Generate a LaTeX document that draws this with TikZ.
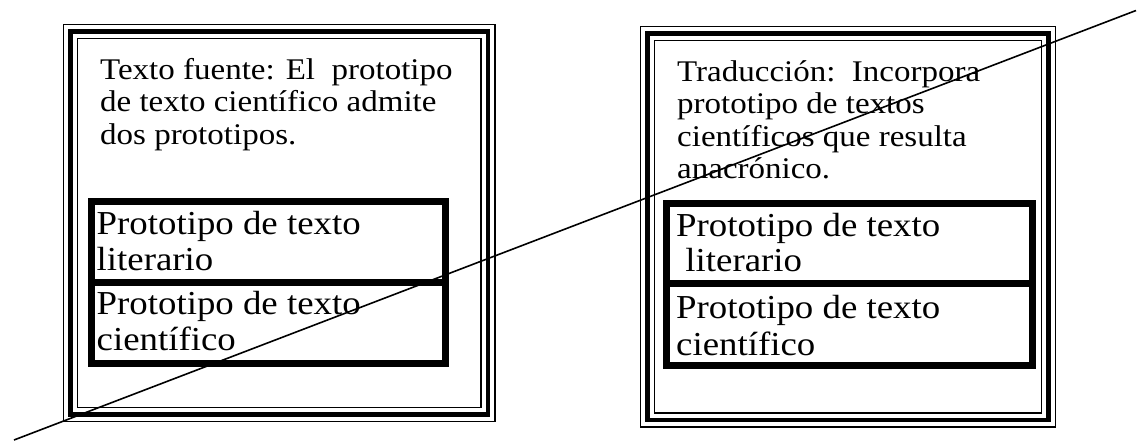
\documentclass[tikz,border=0pt]{standalone}
\usepackage{fontspec}
\setmainfont{Liberation Serif}
\newfontfamily\widefont[FakeStretch=1.1]{Liberation Serif}
\begin{document}
\begin{tikzpicture}[x=1pt,y=-1pt,
  txt/.style={anchor=base west, inner sep=0pt, font=\widefont\fontsize{30}{33}\selectfont},
  boxtxt/.style={anchor=base west, inner sep=0pt, font=\widefont\fontsize{33.5}{36}\selectfont},
  thinframe/.style={line width=1.5pt},
  thickframe/.style={line width=4.5pt},
  boxline/.style={line width=7pt},
  crossline/.style={line width=1.6pt}]
\useasboundingbox (0,0) rectangle (1139,440);
% left triple frame
\draw[thinframe] (63.5,24.5) rectangle (495,421.5);
\draw[thickframe] (70.5,31.5) rectangle (488,414.5);
\draw[thinframe] (77.5,38.5) rectangle (481,407.5);
% right triple frame
\draw[thinframe] (640.5,26.5) rectangle (1055.5,427);
\draw[thickframe] (647.5,33.5) rectangle (1048.5,420);
\draw[thinframe] (654.5,40.5) rectangle (1041.5,413);
% left inner boxes
\draw[boxline] (91,201) rectangle (445,282);
\draw[boxline] (91,282) rectangle (445,363.5);
% right inner boxes
\draw[boxline] (666,203) rectangle (1032,283.5);
\draw[boxline] (666,283.5) rectangle (1032,365);
% left texts
\node[txt] (l1) at (100,79) {Texto fuente: El\ \ prototipo};
\node[txt] (l2) at (100,111.5) {de texto científico admite};
\node[txt] (l3) at (100,144) {dos prototipos.};
\node[boxtxt] (la1) at (96.5,234) {Prototipo de texto};
\node[boxtxt] (la2) at (96.5,270) {literario};
\node[boxtxt] (lb1) at (96.5,314) {Prototipo de texto};
\node[boxtxt] (lb2) at (96.5,350.5) {científico};
% right texts
\node[txt] (r1) at (677,81) {Traducción:\ \ Incorpora};
\node[txt] (r2) at (677,113.5) {prototipo de textos};
\node[txt] (r3) at (677,146) {científicos que resulta};
\node[txt] (r4) at (677,178.5) {anacrónico.};
\node[boxtxt] (ra1) at (676,236.5) {Prototipo de texto};
\node[boxtxt] (ra2) at (676,271.5) {\ literario};
\node[boxtxt] (rb1) at (676,318) {Prototipo de texto};
\node[boxtxt] (rb2) at (676,355) {científico};
% diagonal line
\coordinate (cs) at (14,440);
\coordinate (ce) at (1136,10.5);
\draw[crossline] (cs) -- (ce);
\end{tikzpicture}
\end{document}
